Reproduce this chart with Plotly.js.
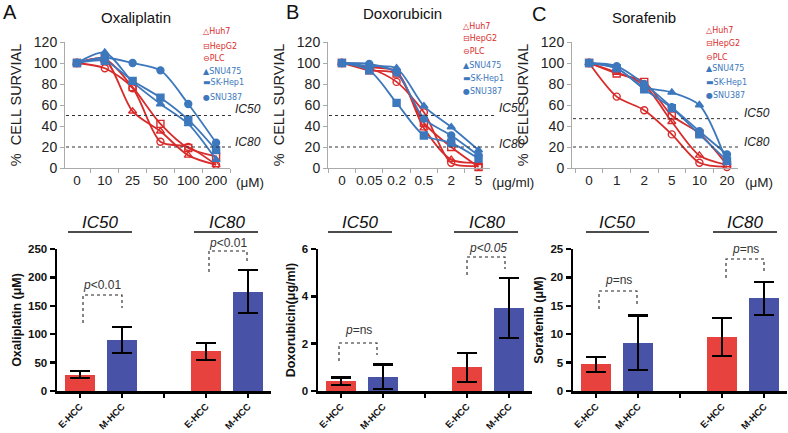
<!DOCTYPE html>
<html>
<head>
<meta charset="utf-8">
<script src="https://cdn.plot.ly/plotly-3.0.1.min.js"></script>
<style>html,body{margin:0;padding:0;background:#fff;}#chart{width:788px;height:433px;}</style>
</head>
<body>
<div id="chart"></div>
<script>
// ---------- DATA ----------
const cellLines = ['Huh7','HepG2','PLC','SNU475','SK-Hep1','SNU387'];

const concOxa = ['0','10','25','50','100','200'];
const oxaHuh7   = [100,103,54,35,12,3];
const oxaHepG2  = [100,104,77,42,19,11];
const oxaPLC    = [100,95,76,25,20,3];
const oxaSNU475 = [100,110,82,61,42,8];
const oxaSKHep1 = [100,102,83,67,46,17];
const oxaSNU387 = [100,105,100,93,61,24];

const concDox = ['0','0.05','0.2','0.5','2','5'];
const doxHuh7   = [100,96,92,38,8,5];
const doxHepG2  = [100,93,90,43,20,1];
const doxPLC    = [100,95,82,53,5,2];
const doxSNU475 = [100,97,95,59,39,17];
const doxSKHep1 = [100,93,62,31,24,9];
const doxSNU387 = [100,99,91,47,31,12];

const concSor = ['0','1','2','5','10','20'];
const sorHuh7   = [100,91,79,44,12,3];
const sorHepG2  = [100,90,82,50,33,3];
const sorPLC    = [100,68,55,32,5,1];
const sorSNU475 = [100,95,77,72,60,5];
const sorSKHep1 = [100,95,75,57,32,7];
const sorSNU387 = [100,97,80,58,35,13];

const barTickText = ['E-HCC','M-HCC','','E-HCC','M-HCC'];
const groupPos = {E: [0,3], M: [1,4]};
// [IC50, IC80] mean and error for E-HCC and M-HCC
const oxaE = [29, 70],   oxaEerr = [6, 15];
const oxaM = [90, 175],  oxaMerr = [23, 38];
const doxE = [0.42, 1.0], doxEerr = [0.15, 0.62];
const doxM = [0.6, 3.5],  doxMerr = [0.52, 1.27];
const sorE = [4.7, 9.5],  sorEerr = [1.3, 3.4];
const sorM = [8.5, 16.3], sorMerr = [4.8, 2.9];

// ---------- STYLE ----------
const W = 788, H = 433;
const X = px => px / W;
const Y = py => 1 - py / H;
const RED = '#d92b2b', BLUE = '#3d78bd';
const BAR_RED = '#e8423f', BAR_BLUE = '#4852a6';
const FONT = 'Arial, Liberation Sans, sans-serif';
const symbols = ['triangle-up-open','square-open','circle-open','triangle-up','square','circle'];
const colors = [RED,RED,RED,BLUE,BLUE,BLUE];

const traces = [];
function addCurves(xCats, seriesList, xa, ya) {
  seriesList.forEach((ys, i) => {
    traces.push({
      type: 'scatter', mode: 'lines+markers', x: xCats, y: ys,
      xaxis: xa, yaxis: ya, name: cellLines[i], showlegend: false, cliponaxis: false,
      line: {color: colors[i], width: 1.8, shape: 'spline', smoothing: 0.8},
      marker: {symbol: symbols[i], size: 7, color: colors[i], line: {color: colors[i], width: 1.4}}
    });
  });
}
addCurves(concOxa, [oxaHuh7,oxaHepG2,oxaPLC,oxaSNU475,oxaSKHep1,oxaSNU387], 'x', 'y');
addCurves(concDox, [doxHuh7,doxHepG2,doxPLC,doxSNU475,doxSKHep1,doxSNU387], 'x2', 'y2');
addCurves(concSor, [sorHuh7,sorHepG2,sorPLC,sorSNU475,sorSKHep1,sorSNU387], 'x3', 'y3');

function addBars(E, Eerr, M, Merr, xa, ya) {
  traces.push({type:'bar', x: groupPos.E, y: E, xaxis: xa, yaxis: ya, width: 0.7, showlegend:false,
    marker:{color: BAR_RED}, error_y:{type:'data', array:Eerr, visible:true, color:'#000', thickness:2.2, width:10}});
  traces.push({type:'bar', x: groupPos.M, y: M, xaxis: xa, yaxis: ya, width: 0.7, showlegend:false,
    marker:{color: BAR_BLUE}, error_y:{type:'data', array:Merr, visible:true, color:'#000', thickness:2.2, width:10}});
}
addBars(oxaE, oxaEerr, oxaM, oxaMerr, 'x4', 'y4');
addBars(doxE, doxEerr, doxM, doxMerr, 'x5', 'y5');
addBars(sorE, sorEerr, sorM, sorMerr, 'x6', 'y6');

// ---------- AXES ----------
function topX(l, r, range, anchor) {
  return {domain:[X(l),X(r)], anchor, type:'category', range, tickson:'boundaries', tickangle:0,
    ticks:'outside', ticklen:4, tickcolor:'#aaa', showline:true, linecolor:'#aaa', linewidth:1,
    showgrid:false, zeroline:false, tickfont:{size:13.5, color:'#222'}, fixedrange:true};
}
function topY(anchor) {
  return {domain:[Y(168),Y(42)], anchor, range:[0,120], dtick:20, ticks:'outside', ticklen:4,
    tickcolor:'#aaa', showline:true, linecolor:'#aaa', linewidth:1, showgrid:false, zeroline:false,
    tickfont:{size:14, color:'#222'}, title:{text:'%  CELL SURVIAL', font:{size:14.5, color:'#222'}, standoff:8}};
}
function botX(l, anchor) {
  return {domain:[X(l), X(l + 42*5.1)], anchor, range:[-0.55,4.55], tickvals:[0,1,2,3,4], ticktext:barTickText,
    tickangle:-45, ticks:'outside', ticklen:4, tickwidth:2.5, tickcolor:'#000', showline:true, linecolor:'#000',
    linewidth:2.5, showgrid:false, zeroline:false, ticklabelstandoff:0, tickfont:{size:9.5, color:'#111', weight:'bold'}};
}
function botY(anchor, range, dtick, title) {
  return {domain:[Y(391),Y(249)], anchor, range, dtick, ticks:'outside', ticklen:5, tickwidth:2.5,
    tickcolor:'#000', showline:true, linecolor:'#000', linewidth:2.5, showgrid:false, zeroline:false,
    tickfont:{size:11.5, color:'#111', weight:'bold'},
    title:{text:title, font:{size:12.5, color:'#111', weight:'bold'}, standoff:4}};
}

const layout = {
  width: W, height: H, margin:{l:0,r:0,t:0,b:0}, paper_bgcolor:'#fff', plot_bgcolor:'rgba(0,0,0,0)',
  font:{family: FONT, color:'#222'}, showlegend:false, bargap:0,
  xaxis: topX(65, 230, [-0.43,5.5], 'y'),
  yaxis: topY('x'),
  xaxis2: topX(328, 490, [-0.51,5.42], 'y2'),
  yaxis2: topY('x2'),
  xaxis3: topX(572, 738, [-0.62,5.4], 'y3'),
  yaxis3: topY('x3'),
  xaxis4: botX(57, 'y4'),
  yaxis4: botY('x4', [0,250], 50, 'Oxaliplatin (\u03bcM)'),
  xaxis5: botX(318, 'y5'),
  yaxis5: botY('x5', [0,6], 2, 'Doxorubicin(\u03bcg/ml)'),
  xaxis6: botX(573, 'y6'),
  yaxis6: botY('x6', [0,25], 5, 'Sorafenib (\u03bcM)'),
  shapes: [], annotations: []
};

function ann(text, px, py, o = {}) {
  layout.annotations.push(Object.assign({text, x:X(px), y:Y(py), xref:'paper', yref:'paper',
    xanchor:'center', yanchor:'middle', showarrow:false, font:{family:FONT, size:12, color:'#222'}}, o));
}
function hline(x0, x1, py, o) {
  layout.shapes.push({type:'line', xref:'paper', yref:'paper', x0:X(x0), x1:X(x1), y0:Y(py), y1:Y(py), line:o});
}

// panel letters and titles
ann('A', 10, 12, {font:{family:FONT, size:20, color:'#111'}});
ann('B', 292, 12, {font:{family:FONT, size:20, color:'#111'}});
ann('C', 539, 14, {font:{family:FONT, size:20, color:'#111'}});
ann('Oxaliplatin', 136, 18, {font:{family:FONT, size:15, color:'#111'}});
ann('Doxorubicin', 402, 13, {font:{family:FONT, size:15, color:'#111'}});
ann('Sorafenib', 644, 17, {font:{family:FONT, size:15, color:'#111'}});

// unit labels
ann('(\u03bcM)', 234, 183, {xanchor:'left', font:{family:FONT, size:13.5, color:'#222'}});
ann('(\u03bcg/ml)', 490, 183, {xanchor:'left', font:{family:FONT, size:13.5, color:'#222'}});
ann('(\u03bcM)', 743, 183, {xanchor:'left', font:{family:FONT, size:13.5, color:'#222'}});

// IC50 / IC80 dotted reference lines
const icLines = [
  {ya:'y', x0:66, x1:231, ic50:50, lab:233, l50:109, l80:142},
  {ya:'y2', x0:329, x1:497, ic50:50, lab:497, l50:108, l80:144},
  {ya:'y3', x0:573, x1:741, ic50:47, lab:742, l50:113, l80:142}
];
icLines.forEach(c => {
  [c.ic50, 20].forEach(v => layout.shapes.push({type:'line', xref:'paper', yref:c.ya, x0:X(c.x0), x1:X(c.x1),
    y0:v, y1:v, line:{color:'#333', width:1, dash:'dot'}}));
  ann('<i>IC50</i>', c.lab, c.l50, {xanchor:'left', font:{family:FONT, size:12, color:'#222'}});
  ann('<i>IC80</i>', c.lab, c.l80, {xanchor:'left', font:{family:FONT, size:12, color:'#222'}});
});

// legends (glyph + name)
const glyphs = ['\u25b3','\u229f','\u2296','\u25b2','\u25ac','\u25cf'];
function legend(xl, ys) {
  cellLines.forEach((n, i) => {
    ann('<span style="color:' + colors[i] + '">' + glyphs[i] + '</span>' + n, xl, ys[i],
      {xanchor:'left', font:{family:'DejaVu Sans, sans-serif', size:8, color:colors[i]}});
  });
}
legend(201, [32,46,58,71,83,97]);
legend(461, [26,39,52,65,78,91]);
legend(704, [31,43,57,69,82,95]);

// bottom headers with underline
function header(text, cx, x0, x1) {
  ann('<i>' + text + '</i>', cx, 222, {font:{family:FONT, size:17, color:'#111'}});
  hline(x0, x1, 232, {color:'#111', width:1.5});
}
header('IC50', 100, 68, 132); header('IC80', 227, 194, 258);
header('IC50', 360, 328, 392); header('IC80', 487, 454, 518);
header('IC50', 617, 586, 649); header('IC80', 745, 713, 777);

// p-value brackets
function bracket(text, tx, ty, x0, x1, top, b0, b1) {
  layout.shapes.push({type:'path', xref:'paper', yref:'paper',
    path:`M ${X(x0)},${Y(b0)} L ${X(x0)},${Y(top)} L ${X(x1)},${Y(top)} L ${X(x1)},${Y(b1)}`,
    line:{color:'#222', width:1.1, dash:'dot'}});
  ann(text, tx, ty, {font:{family:FONT, size:12, color:'#333'}});
}
bracket('<i>p</i>&lt;0.01', 102, 285, 83, 122, 295, 323, 308);
bracket('<i>p</i>&lt;0.01', 228, 243, 209, 247, 251, 272, 262);
bracket('<i>p</i>=ns', 358, 330, 339, 377, 343, 361, 355);
bracket('<i>p&lt;0.05</i>', 488, 248, 467, 505, 257, 275, 269);
bracket('<i>p</i>=ns', 618, 280, 599, 637, 291, 309, 304);
bracket('<i>p</i>=ns', 745, 249, 726, 764, 259, 278, 272);

Plotly.newPlot('chart', traces, layout, {staticPlot:true, displayModeBar:false});
</script>
</body>
</html>
